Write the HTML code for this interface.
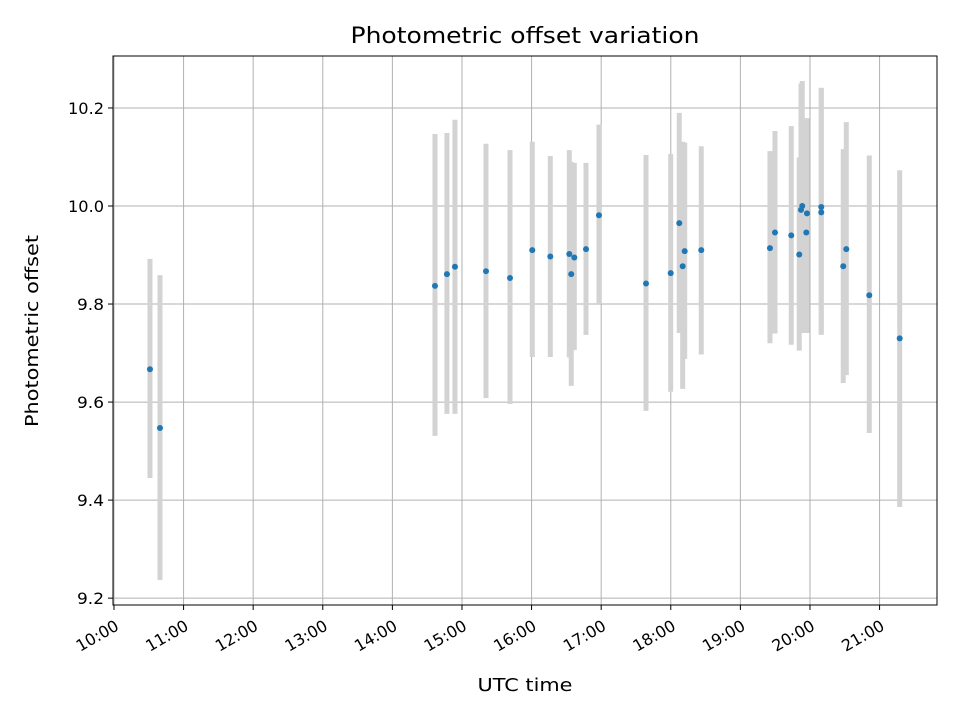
<!DOCTYPE html>
<html><head><meta charset="utf-8"><style>
body{margin:0;background:#fff;font-family:"DejaVu Sans","Liberation Sans",sans-serif;}
svg text{font-family:"DejaVu Sans","Liberation Sans",sans-serif;fill:#000;}
</style></head><body>
<svg id="chart" width="960" height="720" xmlns="http://www.w3.org/2000/svg">
<rect width="960" height="720" fill="#fff"/>
<g id="grid"></g>
<g id="bars"></g>
<g id="pts"></g>
<rect x="113" y="56" width="824" height="549" fill="none" stroke="#000" stroke-width="1"/>
<g id="axes"></g>
<text x="525" y="43" font-size="22" text-anchor="middle" textLength="349" lengthAdjust="spacingAndGlyphs">Photometric offset variation</text>
<text x="525" y="691" font-size="18" text-anchor="middle" textLength="95" lengthAdjust="spacingAndGlyphs">UTC time</text>
<text transform="translate(38,331) rotate(-90)" font-size="18" text-anchor="middle" textLength="192" lengthAdjust="spacingAndGlyphs">Photometric offset</text>
</svg>
<script>
const times=[10.517,10.661,14.612,14.784,14.899,15.345,15.690,16.010,16.269,16.542,16.570,16.614,16.782,16.968,17.644,17.999,18.122,18.171,18.200,18.438,19.425,19.497,19.731,19.846,19.889,19.871,19.957,19.947,20.162,20.162,20.478,20.522,20.852,21.289];
const values=[9.667,9.547,9.837,9.861,9.876,9.867,9.853,9.910,9.897,9.902,9.861,9.895,9.912,9.981,9.842,9.863,9.965,9.877,9.908,9.910,9.914,9.946,9.940,9.901,10.000,9.992,9.985,9.946,9.998,9.987,9.877,9.912,9.818,9.730];
const highs=[9.892,9.859,10.147,10.149,10.176,10.127,10.114,10.131,10.102,10.114,10.090,10.088,10.088,10.166,10.104,10.106,10.190,10.131,10.129,10.122,10.112,10.153,10.163,10.099,10.255,10.250,10.179,10.179,10.241,10.241,10.116,10.171,10.103,10.073];
const lows=[9.445,9.237,9.531,9.576,9.576,9.608,9.596,9.692,9.692,9.691,9.633,9.706,9.737,9.800,9.582,9.621,9.741,9.627,9.688,9.697,9.720,9.740,9.717,9.705,9.741,9.743,9.741,9.795,9.737,9.740,9.639,9.655,9.537,9.386];
const xTicks=[10,11,12,13,14,15,16,17,18,19,20,21];
const xTickLabels=["10:00","11:00","12:00","13:00","14:00","15:00","16:00","17:00","18:00","19:00","20:00","21:00"];
const yTicks=[9.2,9.4,9.6,9.8,10.0,10.2];
const yTickLabels=["9.2","9.4","9.6","9.8","10.0","10.2"];
const X0=113,X1=937,Y0=56,Y1=605,XMIN=9.986,XMAX=21.825,YMIN=9.186,YMAX=10.306;
const sx=h=>X0+(h-XMIN)/(XMAX-XMIN)*(X1-X0);
const sy=v=>Y1-(v-YMIN)/(YMAX-YMIN)*(Y1-Y0);
const NS="http://www.w3.org/2000/svg";
function mk(t,a,p){const e=document.createElementNS(NS,t);for(const k in a)e.setAttribute(k,a[k]);p.appendChild(e);return e;}
const grid=document.getElementById('grid'),axes=document.getElementById('axes');
xTicks.forEach((t,i)=>{const x=sx(t);
 const g=mk('line',{x1:x,x2:x,y1:Y0,y2:Y1,stroke:'#b0b0b0','stroke-width':1},grid);
 
 const tk=mk('line',{x1:x,x2:x,y1:Y1,y2:Y1+5,stroke:'#000'},axes);
 
 const tx=mk('text',{transform:`translate(${x+6},${Y1+24}) rotate(-30)`,'font-size':16,'text-anchor':'end',textLength:46,lengthAdjust:'spacingAndGlyphs'},axes);
 tx.textContent=xTickLabels[i];
 
});
yTicks.forEach((t,i)=>{const y=sy(t);
 const g=mk('line',{x1:X0,x2:X1,y1:y,y2:y,stroke:'#b0b0b0','stroke-width':1},grid);
 
 const tk=mk('line',{x1:X0-5,x2:X0,y1:y,y2:y,stroke:'#000'},axes);
 
 const tx=mk('text',{x:X0-9,y:y+6,'font-size':16,'text-anchor':'end',textLength:yTickLabels[i].length===3?27:36,lengthAdjust:'spacingAndGlyphs'},axes);
 tx.textContent=yTickLabels[i];
 
});
const bars=document.getElementById('bars'),pts=document.getElementById('pts');
times.forEach((t,i)=>{const x=sx(t);
 const b=mk('line',{x1:x,x2:x,y1:sy(highs[i]),y2:sy(lows[i]),stroke:'#d3d3d3','stroke-width':5},bars);
 
 const c=mk('circle',{cx:x,cy:sy(values[i]),r:3,fill:'#1f77b4'},pts);
 
});
</script>
</body></html>
